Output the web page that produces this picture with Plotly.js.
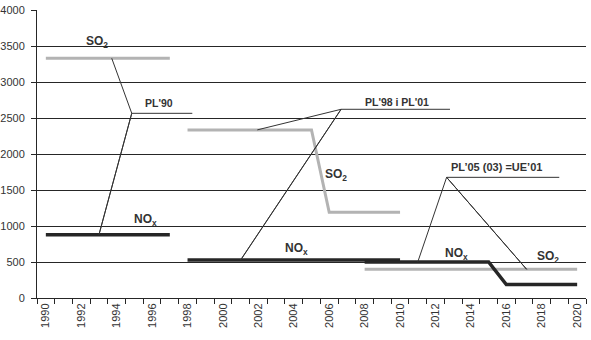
<!DOCTYPE html>
<html>
<head>
<meta charset="utf-8">
<script src="https://cdn.plot.ly/plotly-3.0.1.min.js"></script>
<style>
  html, body { margin: 0; padding: 0; background: #fff; }
  #chart { width: 591px; height: 340px; }
</style>
</head>
<body>
<div id="chart"></div>
<script>
// Emission ceilings (kt/year) under successive protocols: SO2 and NOx
const yearTicks = [1990, 1992, 1994, 1996, 1998, 2000, 2002, 2004, 2006, 2008,
                   2010, 2012, 2014, 2016, 2018, 2020];

// PL'90
const yearsPL90 = [1990, 1991, 1992, 1993, 1994, 1995, 1996, 1997];
const so2PL90   = [3330, 3330, 3330, 3330, 3330, 3330, 3330, 3330];
const noxPL90   = [880, 880, 880, 880, 880, 880, 880, 880];

// PL'98 i PL'01
const yearsPL98 = [1998, 1999, 2000, 2001, 2002, 2003, 2004, 2005, 2006, 2007, 2008, 2009, 2010];
const so2PL98   = [2335, 2335, 2335, 2335, 2335, 2335, 2335, 2335, 1190, 1190, 1190, 1190, 1190];
const noxPL98   = [528, 528, 528, 528, 528, 528, 528, 528, 528, 528, 528, 528, 528];

// PL'05 (03) = UE'01
const yearsPL05 = [2008, 2009, 2010, 2011, 2012, 2013, 2014, 2015, 2016, 2017, 2018, 2019, 2020];
const so2PL05   = [398, 398, 398, 398, 398, 398, 398, 398, 398, 398, 398, 398, 398];
const noxPL05   = [500, 500, 500, 500, 500, 500, 500, 500, 186, 186, 186, 186, 186];

// Leader lines from each protocol label to its two series (year, value)
const leaderPL90x = [1993.72, 1994.85, 1993.0, 1994.85, 1998.27];
const leaderPL90y = [3330, 2565, 880, 2565, 2565];
const leaderPL98x = [2001.94, 2006.67, 2001.0, 2006.67, 2012.82];
const leaderPL98y = [2335, 2621, 528, 2621, 2621];
const leaderPL05x = [2011.0, 2012.63, 2017.15, 2012.63, 2018.99];
const leaderPL05y = [500, 1676, 398, 1676, 1676];

// Text labels (year, value, text)
const labelX    = [1992.86, 1995.6, 2006.41, 2004.16, 2013.19, 2018.37, 1996.37, 2009.8, 2015.46];
const labelY    = [3560, 1083, 1708, 676, 611, 565, 2712, 2726, 1815];
const labelText = ['SO<sub>2</sub>', 'NO<sub>x</sub>', 'SO<sub>2</sub>', 'NO<sub>x</sub>',
                   'NO<sub>x</sub>', 'SO<sub>2</sub>', "PL'90", "PL'98 i PL'01", 'PL’05 (03) =UE’01'];
const labelSize = [12, 12, 12, 12, 12, 12, 10.5, 10.5, 11];

const GREY = '#b3b3b3';
const DARK = '#262626';
const INK  = '#333333';

const traces = [];
function series(x, y, color, width) {
  traces.push({x: x, y: y, type: 'scatter', mode: 'lines',
               line: {color: color, width: width}, hoverinfo: 'skip', showlegend: false});
}
series(yearsPL90, so2PL90, GREY, 3);
series(yearsPL98, so2PL98, GREY, 3);
series(yearsPL05, so2PL05, GREY, 3);
series(yearsPL90, noxPL90, DARK, 3.5);
series(yearsPL98, noxPL98, DARK, 3.5);
series(yearsPL05, noxPL05, DARK, 3.5);

[[leaderPL90x, leaderPL90y], [leaderPL98x, leaderPL98y], [leaderPL05x, leaderPL05y]].forEach(function (p) {
  traces.push({x: p[0], y: p[1], type: 'scatter', mode: 'lines',
               line: {color: INK, width: 1}, hoverinfo: 'skip', showlegend: false});
});

const annotations = labelText.map(function (t, i) {
  return {x: labelX[i], y: labelY[i], xref: 'x', yref: 'y', text: '<b>' + t + '</b>',
          showarrow: false, xanchor: 'center', yanchor: 'middle',
          font: {family: 'Liberation Sans, Arial, sans-serif', size: labelSize[i], color: INK}};
});

const layout = {
  width: 591, height: 340,
  margin: {l: 37, r: 5, t: 10, b: 42},
  paper_bgcolor: '#fff', plot_bgcolor: '#fff',
  showlegend: false,
  font: {family: 'Liberation Sans, Arial, sans-serif', size: 11, color: INK},
  xaxis: {
    range: [1989.5, 2020.5], tickvals: yearTicks, ticktext: yearTicks.map(String),
    tickangle: -90, ticks: '', showgrid: false, zeroline: false,
    showline: true, linecolor: DARK, linewidth: 1,
    tickfont: {size: 11, color: INK},
    minor: {ticks: 'outside', tick0: 1989.5, dtick: 1, ticklen: 5, tickcolor: DARK, tickwidth: 1, showgrid: false}
  },
  yaxis: {
    range: [0, 4000], dtick: 500, tick0: 0,
    ticks: 'outside', ticklen: 5, tickcolor: DARK, tickwidth: 1,
    showgrid: true, gridcolor: DARK, gridwidth: 1, zeroline: false,
    showline: true, linecolor: DARK, linewidth: 1,
    ticklabelstandoff: 4,
    tickfont: {size: 11, color: INK}
  },
  annotations: annotations
};

Plotly.newPlot('chart', traces, layout, {displayModeBar: false, staticPlot: true});
</script>
</body>
</html>
